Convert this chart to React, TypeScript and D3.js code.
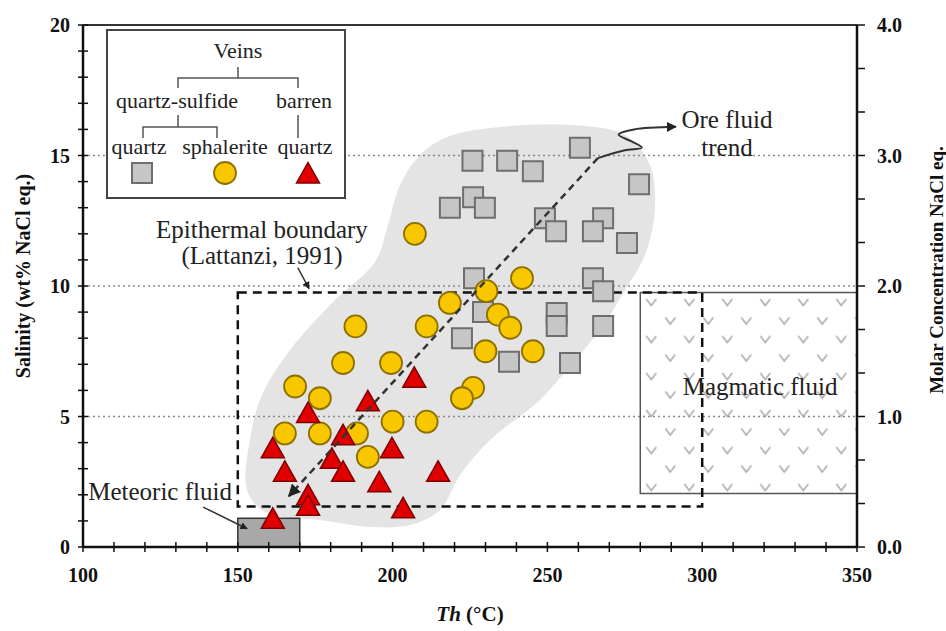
import React, { useRef, useEffect } from "react";
import * as d3 from "d3";

// Th (°C), salinity (wt% NaCl eq.)
const quartzSulfideQuartz: [number, number][] = [
  [225.8, 14.8], [237, 14.8], [245.3, 14.4], [260.5, 15.3], [279.6, 13.9],
  [226, 13.4], [218.5, 13.0], [229.8, 13.0], [249.2, 12.6], [252.8, 12.1],
  [268, 12.6], [264.7, 12.1], [275.7, 11.65], [226.3, 10.3], [264.7, 10.3],
  [268, 9.8], [229.2, 9.0], [253, 8.97], [253, 8.47], [268, 8.47],
  [222.4, 8.0], [237.6, 7.1], [257.3, 7.05],
];

const quartzSulfideSphalerite: [number, number][] = [
  [207.2, 12.0], [241.8, 10.3], [230.3, 9.8], [218.5, 9.35], [234, 8.9],
  [238, 8.4], [211, 8.45], [188, 8.45], [184, 7.05], [199.5, 7.05],
  [230, 7.5], [245.3, 7.5], [168.5, 6.15], [176.5, 5.7], [226, 6.1],
  [222.4, 5.7], [200, 4.8], [211, 4.8], [165.2, 4.35], [176.5, 4.35],
  [188.5, 4.35], [192, 3.45],
];

const barrenQuartz: [number, number][] = [
  [207, 6.5], [192, 5.6], [172.7, 5.15], [184, 4.3], [161.3, 3.8],
  [199.8, 3.8], [180.4, 3.4], [165.2, 2.9], [184, 2.9], [214.7, 2.9],
  [195.7, 2.5], [172.7, 2.0], [172.7, 1.6], [203.4, 1.5], [161.3, 1.1],
];

// outline of the grey fluid inclusion field
const inclusionField: [number, number][] = [
  [217.6, 15.71], [234.7, 16.09], [257.3, 16.17], [275.1, 15.79], [283.1, 14.64],
  [284.7, 12.91], [281.5, 11.19], [275.1, 9.85], [267.0, 8.31], [258.9, 7.16],
  [247.6, 5.63], [231.5, 4.1], [221.8, 2.76], [215.3, 1.42], [205.6, 0.84],
  [192.7, 0.77], [176.6, 1.03], [158.8, 1.34], [153.0, 2.18], [153.9, 4.1],
  [157.8, 5.82], [166.9, 7.55], [181.4, 9.46], [194.3, 10.92], [198.5, 12.34],
  [202.4, 13.87], [208.9, 15.02],
];

const epithermalTh = [150, 300];
const epithermalSalinity = [1.55, 9.75];
const magmaticTh = [280, 350];
const magmaticSalinity = [2.05, 9.75];
const meteoricTh = [150, 170];
const meteoricSalinity = [0, 1.1];

const oreTrend: [number, number][] = [[266.3, 14.9], [166.5, 1.95]];
const oreSquiggle: [number, number][] = [
  [266.3, 14.9], [275, 15.2], [280.5, 15.3], [277, 15.55], [273, 15.8],
  [278, 16.0], [291.5, 16.1],
];
const epithermalPointer: [number, number][] = [[169.4, 10.7], [173, 9.9]];
const meteoricPointer: [number, number][] = [[138.8, 1.53], [153, 0.7]];

const thTicks = [100, 150, 200, 250, 300, 350];
const salinityTicks = [0, 5, 10, 15, 20];
const molarTicks = [0, 1, 2, 3, 4];
const gridSalinity = [5, 10, 15];

const App = () => {
  const svgRef = useRef<SVGSVGElement>(null);

  useEffect(() => {
    const width = 946;
    const height = 631;
    const left = 83, right = 857, top = 25, bottom = 547;
    const serif = "'Liberation Serif', 'Times New Roman', serif";

    const svg = d3.select(svgRef.current);
    svg.selectAll("*").remove();
    svg.attr("width", width).attr("height", height);

    const x = d3.scaleLinear().domain([100, 350]).range([left, right]);
    const y = d3.scaleLinear().domain([0, 20]).range([bottom, top]);
    const y2 = d3.scaleLinear().domain([0, 4]).range([bottom, top]);

    const defs = svg.append("defs");
    // "v" fill of the magmatic field
    const pat = defs
      .append("pattern")
      .attr("id", "vpat")
      .attr("patternUnits", "userSpaceOnUse")
      .attr("width", 38)
      .attr("height", 37)
      .attr("patternTransform", `translate(${x(magmaticTh[0]) + 1.5},${y(magmaticSalinity[1]) + 6})`);
    pat
      .append("path")
      .attr("d", "M4.5,0.5L9.5,7L14.5,0.5M23.5,19L28.5,25.5L33.5,19")
      .attr("fill", "none")
      .attr("stroke", "#a5a5a5")
      .attr("stroke-width", 1.4);

    defs
      .append("marker")
      .attr("id", "arrow")
      .attr("viewBox", "0 0 10 10")
      .attr("refX", 9)
      .attr("refY", 5)
      .attr("markerWidth", 5)
      .attr("markerHeight", 5)
      .attr("markerUnits", "strokeWidth")
      .attr("orient", "auto")
      .append("path")
      .attr("d", "M0,0L10,5L0,10z")
      .attr("fill", "#222");

    const g = svg.append("g");

    // grey field
    const closed = d3
      .line<[number, number]>()
      .x((d) => x(d[0]))
      .y((d) => y(d[1]))
      .curve(d3.curveCatmullRomClosed.alpha(0.5));
    g.append("path").attr("d", closed(inclusionField)).attr("fill", "#e4e4e4");

    // dotted grid
    g.selectAll(".grid")
      .data(gridSalinity)
      .enter()
      .append("line")
      .attr("x1", left)
      .attr("x2", right)
      .attr("y1", (d) => y(d))
      .attr("y2", (d) => y(d))
      .attr("stroke", "#8a8a8a")
      .attr("stroke-width", 1.5)
      .attr("stroke-dasharray", "2,3");

    // magmatic fluid field
    g.append("rect")
      .attr("x", x(magmaticTh[0]))
      .attr("y", y(magmaticSalinity[1]))
      .attr("width", x(magmaticTh[1]) - x(magmaticTh[0]))
      .attr("height", y(magmaticSalinity[0]) - y(magmaticSalinity[1]))
      .attr("fill", "url(#vpat)")
      .attr("stroke", "#555")
      .attr("stroke-width", 1.5);

    // epithermal boundary
    g.append("rect")
      .attr("x", x(epithermalTh[0]))
      .attr("y", y(epithermalSalinity[1]))
      .attr("width", x(epithermalTh[1]) - x(epithermalTh[0]))
      .attr("height", y(epithermalSalinity[0]) - y(epithermalSalinity[1]))
      .attr("fill", "none")
      .attr("stroke", "#111")
      .attr("stroke-width", 2.5)
      .attr("stroke-dasharray", "9,6");

    // meteoric fluid field
    g.append("rect")
      .attr("x", x(meteoricTh[0]))
      .attr("y", y(meteoricSalinity[1]))
      .attr("width", x(meteoricTh[1]) - x(meteoricTh[0]))
      .attr("height", y(meteoricSalinity[0]) - y(meteoricSalinity[1]))
      .attr("fill", "#a8a8a8")
      .attr("stroke", "#333")
      .attr("stroke-width", 1.5);

    // symbols
    const square = d3.symbol().type(d3.symbolSquare).size(400);
    const circle = d3.symbol().type(d3.symbolCircle).size(380);
    const tri = "M0,-10.5L11.5,10L-11.5,10Z";

    g.selectAll(".sq")
      .data(quartzSulfideQuartz)
      .enter()
      .append("path")
      .attr("d", square)
      .attr("transform", (d) => `translate(${x(d[0])},${y(d[1])})`)
      .attr("fill", "#c6c6c6")
      .attr("stroke", "#6e6e6e")
      .attr("stroke-width", 2);

    g.selectAll(".ci")
      .data(quartzSulfideSphalerite)
      .enter()
      .append("path")
      .attr("d", circle)
      .attr("transform", (d) => `translate(${x(d[0])},${y(d[1])})`)
      .attr("fill", "#f8c700")
      .attr("stroke", "#8d7000")
      .attr("stroke-width", 1.8);

    g.selectAll(".tr")
      .data(barrenQuartz)
      .enter()
      .append("path")
      .attr("d", tri)
      .attr("transform", (d) => `translate(${x(d[0])},${y(d[1])})`)
      .attr("fill", "#e00000")
      .attr("stroke", "#800000")
      .attr("stroke-width", 1.5);

    // ore fluid trend
    const straight = d3
      .line<[number, number]>()
      .x((d) => x(d[0]))
      .y((d) => y(d[1]));
    g.append("path")
      .attr("d", straight(oreTrend))
      .attr("fill", "none")
      .attr("stroke", "#333")
      .attr("stroke-width", 2.5)
      .attr("stroke-dasharray", "7,5")
      .attr("marker-end", "url(#arrow)");

    const curvy = d3
      .line<[number, number]>()
      .x((d) => x(d[0]))
      .y((d) => y(d[1]))
      .curve(d3.curveCatmullRom.alpha(0.5));
    g.append("path")
      .attr("d", curvy(oreSquiggle))
      .attr("fill", "none")
      .attr("stroke", "#333")
      .attr("stroke-width", 2)
      .attr("marker-end", "url(#arrow)");

    [epithermalPointer, meteoricPointer].forEach((p) => {
      g.append("path")
        .attr("d", straight(p))
        .attr("fill", "none")
        .attr("stroke", "#333")
        .attr("stroke-width", 1.5)
        .attr("marker-end", "url(#arrow)");
    });

    // frame and axes
    g.append("line")
      .attr("x1", left).attr("x2", right).attr("y1", top).attr("y2", top)
      .attr("stroke", "#333").attr("stroke-width", 2);
    g.append("line")
      .attr("x1", left).attr("x2", left).attr("y1", top).attr("y2", bottom)
      .attr("stroke", "#111").attr("stroke-width", 2.5);
    g.append("line")
      .attr("x1", left).attr("x2", right).attr("y1", bottom).attr("y2", bottom)
      .attr("stroke", "#111").attr("stroke-width", 2.5);
    g.append("line")
      .attr("x1", right).attr("x2", right).attr("y1", top).attr("y2", bottom)
      .attr("stroke", "#111").attr("stroke-width", 2.5);

    g.selectAll(".ly")
      .data(d3.range(0, 21))
      .enter()
      .append("line")
      .attr("x1", left - 5).attr("x2", left + 5)
      .attr("y1", (d) => y(d)).attr("y2", (d) => y(d))
      .attr("stroke", "#111").attr("stroke-width", 1.5);

    g.selectAll(".lx")
      .data(d3.range(100, 351, 10))
      .enter()
      .append("line")
      .attr("x1", (d) => x(d)).attr("x2", (d) => x(d))
      .attr("y1", bottom - 5).attr("y2", bottom + 5)
      .attr("stroke", "#111").attr("stroke-width", 1.5);

    g.selectAll(".ry")
      .data(d3.range(0, 13).map((i) => i / 3))
      .enter()
      .append("line")
      .attr("x1", right).attr("x2", right + 8)
      .attr("y1", (d) => y2(d)).attr("y2", (d) => y2(d))
      .attr("stroke", "#111").attr("stroke-width", 1.5);

    const label = (sel: any, size: number, weight = "bold") =>
      sel.attr("font-family", serif).attr("font-size", size).attr("font-weight", weight).attr("fill", "#111");

    label(
      g.selectAll(".yl").data(salinityTicks).enter().append("text")
        .attr("x", 70).attr("y", (d) => y(d)).attr("dy", "0.35em")
        .attr("text-anchor", "end").text((d) => d),
      20
    );
    label(
      g.selectAll(".xl").data(thTicks).enter().append("text")
        .attr("x", (d) => x(d)).attr("y", 582)
        .attr("text-anchor", "middle").text((d) => d),
      20
    );
    label(
      g.selectAll(".rl").data(molarTicks).enter().append("text")
        .attr("x", 877).attr("y", (d) => y2(d)).attr("dy", "0.35em")
        .attr("text-anchor", "start").text((d) => d.toFixed(1)),
      20
    );

    label(
      g.append("text")
        .attr("transform", "translate(30,276) rotate(-90)")
        .attr("text-anchor", "middle")
        .text("Salinity (wt% NaCl eq.)"),
      20
    );
    label(
      g.append("text")
        .attr("transform", "translate(943,270) rotate(-90)")
        .attr("text-anchor", "middle")
        .text("Molar Concentration NaCl eq."),
      19
    );
    const xt = label(
      g.append("text").attr("x", (left + right) / 2).attr("y", 621).attr("text-anchor", "middle"),
      21
    );
    xt.append("tspan").attr("font-style", "italic").text("Th");
    xt.append("tspan").text(" (°C)");

    // annotations
    const note = (tx: number, ty: number, s: string) =>
      label(
        g.append("text").attr("x", x(tx)).attr("y", y(ty)).attr("text-anchor", "middle").text(s),
        25,
        "normal"
      ).attr("fill", "#222");
    note(308, 16.05, "Ore fluid");
    note(308, 15.0, "trend");
    note(157.8, 11.84, "Epithermal boundary");
    note(157.8, 10.84, "(Lattanzi, 1991)");
    note(124.9, 1.8, "Meteoric fluid");
    note(318.7, 5.82, "Magmatic fluid");

    // legend
    const lg = svg.append("g");
    lg.append("rect")
      .attr("x", 107).attr("y", 30).attr("width", 238).attr("height", 168)
      .attr("fill", "#fff").attr("stroke", "#444").attr("stroke-width", 2);
    lg.append("path")
      .attr("d", "M238,67V78M178,88V78H298V88M178,115V127M143,138V127H217V138M298,115V138")
      .attr("fill", "none").attr("stroke", "#555").attr("stroke-width", 1.5);
    const lt = (tx: number, ty: number, s: string) =>
      label(lg.append("text").attr("x", tx).attr("y", ty).attr("text-anchor", "middle").text(s), 22, "normal")
        .attr("fill", "#222");
    lt(238, 58, "Veins");
    lt(177, 108, "quartz-sulfide");
    lt(304, 108, "barren");
    lt(139, 154, "quartz");
    lt(225, 154, "sphalerite");
    lt(305, 154, "quartz");
    lg.append("path").attr("d", square).attr("transform", "translate(142,173)")
      .attr("fill", "#c6c6c6").attr("stroke", "#6e6e6e").attr("stroke-width", 2);
    lg.append("path").attr("d", circle).attr("transform", "translate(225,173)")
      .attr("fill", "#f8c700").attr("stroke", "#8d7000").attr("stroke-width", 1.8);
    lg.append("path").attr("d", tri).attr("transform", "translate(308,173)")
      .attr("fill", "#e00000").attr("stroke", "#800000").attr("stroke-width", 1.5);
  }, []);

  return (
    <div style={{ position: "absolute", left: 0, top: 0 }}>
      <svg ref={svgRef}></svg>
    </div>
  );
};

export default App;
